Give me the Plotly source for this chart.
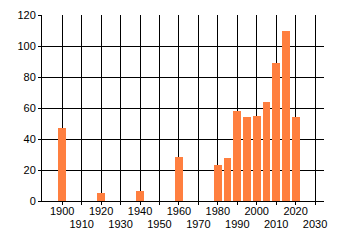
import plotly.graph_objects as go

years = [1900, 1920, 1940, 1960, 1980, 1985, 1990, 1995, 2000, 2005, 2010, 2015, 2020]
values = [47, 5, 6.5, 28.5, 23, 28, 58, 54, 55, 64, 89, 110, 54]

x_ticks = list(range(1900, 2031, 10))
x_row1 = [t for t in x_ticks if (t // 10) % 2 == 0]
x_row2 = [t for t in x_ticks if (t // 10) % 2 == 1]
y_ticks = [0, 20, 40, 60, 80, 100, 120]

fig = go.Figure()
fig.add_trace(go.Bar(x=years, y=values, width=4, marker=dict(color="#FF7F3F", line=dict(width=0))))
fig.add_trace(go.Scatter(x=[], y=[], xaxis="x2", yaxis="y", showlegend=False, hoverinfo="skip"))

fig.update_layout(
    width=340, height=245,
    margin=dict(l=42, r=16, t=15, b=44),
    paper_bgcolor="white", plot_bgcolor="white",
    font=dict(family="Liberation Sans", size=11, color="#000000"),
    showlegend=False,
    bargap=0,
    xaxis=dict(
        range=[1889.6, 2034.6], tickmode="array", tickvals=x_ticks,
        ticktext=[str(t) if t in x_row1 else "" for t in x_ticks],
        showgrid=True, gridcolor="#000000", gridwidth=1,
        showline=True, linecolor="#000000", linewidth=1,
        ticks="outside", ticklen=3, tickcolor="#000000", zeroline=False,
        tickangle=0, automargin=False, ticklabelstandoff=-3,
    ),
    xaxis2=dict(
        range=[1889.6, 2034.6], overlaying="x", anchor="y", side="bottom",
        tickmode="array", tickvals=x_row2, ticktext=[str(t) for t in x_row2],
        showgrid=False, showline=False, ticks="", zeroline=False,
        tickangle=0, automargin=False, ticklabelstandoff=15,
    ),
    yaxis=dict(
        range=[0, 120], tickmode="array", tickvals=y_ticks,
        showgrid=True, gridcolor="#000000", gridwidth=1,
        showline=True, linecolor="#000000", linewidth=1,
        ticks="outside", ticklen=3, tickcolor="#000000", zeroline=False,
        automargin=False,
    ),
)

fig.write_html("out.html")
